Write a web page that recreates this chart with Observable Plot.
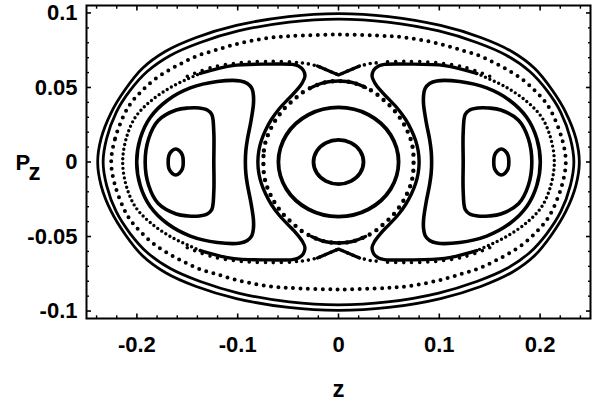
<!DOCTYPE html>
<html><head><meta charset="utf-8">
<script src="https://cdn.jsdelivr.net/npm/d3@7"></script>
<script src="https://cdn.jsdelivr.net/npm/@observablehq/plot@0.6"></script>
<style>html,body{margin:0;padding:0;background:#fff;}</style>
</head><body><div id="chart"></div>
<script>
// ---- tick values ----
const xMajorTicks = [-0.2, -0.1, 0, 0.1, 0.2];
const xMinorTicks = [-0.24,-0.22,-0.18,-0.16,-0.14,-0.12,-0.08,-0.06,-0.04,-0.02,0.02,0.04,0.06,0.08,0.12,0.14,0.16,0.18,0.22,0.24];
const yMajorTicks = [-0.1, -0.05, 0, 0.05, 0.1];
const yMinorTicks = [-0.09,-0.08,-0.07,-0.06,-0.04,-0.03,-0.02,-0.01,0.01,0.02,0.03,0.04,0.06,0.07,0.08,0.09];

// ---- orbits [z, Pz] ----
const outerOrbitA = [[-0.2389,0],[-0.2355,0.0158],[-0.2255,0.0332],[-0.2116,0.0486],[-0.1947,0.0627],[-0.1719,0.0741],[-0.1411,0.0835],[-0.1013,0.0916],[-0.0497,0.0976],[0,0.0996],
[0.0497,0.0976],[0.1013,0.0916],[0.1411,0.0835],[0.1719,0.0741],[0.1947,0.0627],[0.2116,0.0486],[0.2255,0.0332],[0.2355,0.0158],
[0.2389,0],[0.2355,-0.0158],[0.2255,-0.0332],[0.2116,-0.0486],[0.1947,-0.0627],[0.1719,-0.0741],[0.1411,-0.0835],[0.1013,-0.0916],[0.0497,-0.0976],[0,-0.0996],
[-0.0497,-0.0976],[-0.1013,-0.0916],[-0.1411,-0.0835],[-0.1719,-0.0741],[-0.1947,-0.0627],[-0.2116,-0.0486],[-0.2255,-0.0332],[-0.2355,-0.0158]];

const outerOrbitB = [[-0.2335,0],[-0.2300,0.0158],[-0.2206,0.0332],[-0.2067,0.0480],[-0.1898,0.0607],[-0.1669,0.0715],[-0.1371,0.0802],[-0.0994,0.0879],[-0.0487,0.0939],[0,0.0959],
[0.0487,0.0939],[0.0994,0.0879],[0.1371,0.0802],[0.1669,0.0715],[0.1898,0.0607],[0.2067,0.0480],[0.2206,0.0332],[0.2300,0.0158],
[0.2335,0],[0.2300,-0.0158],[0.2206,-0.0332],[0.2067,-0.0480],[0.1898,-0.0607],[0.1669,-0.0715],[0.1371,-0.0802],[0.0994,-0.0879],[0.0487,-0.0939],[0,-0.0959],
[-0.0487,-0.0939],[-0.0994,-0.0879],[-0.1371,-0.0802],[-0.1669,-0.0715],[-0.1898,-0.0607],[-0.2067,-0.0480],[-0.2206,-0.0332],[-0.2300,-0.0158]];

const dottedOrbit = [[-0.2255,0],[-0.2216,0.0158],[-0.2116,0.0332],[-0.2047,0.0406],[-0.1957,0.0473],[-0.1838,0.0547],[-0.1689,0.0614],[-0.1540,0.0668],[-0.1391,0.0715],[-0.1232,0.0748],[-0.1063,0.0782],[-0.0874,0.0812],[-0.0666,0.0835],[-0.0477,0.0845],[0,0.0855],
[0.0477,0.0845],[0.0666,0.0835],[0.0874,0.0812],[0.1063,0.0782],[0.1232,0.0748],[0.1391,0.0715],[0.1540,0.0668],[0.1689,0.0614],[0.1838,0.0547],[0.1957,0.0473],[0.2047,0.0406],[0.2116,0.0332],[0.2216,0.0158],
[0.2255,0],[0.2216,-0.0158],[0.2116,-0.0332],[0.2047,-0.0406],[0.1957,-0.0473],[0.1838,-0.0547],[0.1689,-0.0614],[0.1540,-0.0668],[0.1391,-0.0715],[0.1232,-0.0748],[0.1063,-0.0782],[0.0874,-0.0812],[0.0666,-0.0835],[0.0477,-0.0845],[0,-0.0855],
[-0.0477,-0.0845],[-0.0666,-0.0835],[-0.0874,-0.0812],[-0.1063,-0.0782],[-0.1232,-0.0748],[-0.1391,-0.0715],[-0.1540,-0.0668],[-0.1689,-0.0614],[-0.1838,-0.0547],[-0.1957,-0.0473],[-0.2047,-0.0406],[-0.2116,-0.0332],[-0.2216,-0.0158]];

// outer separatrix layer: scattered far ends, dense inner parts
const lobeLeftScatter = [[-0.1371,-0.0594],[-0.1649,-0.0507],[-0.1868,-0.0406],[-0.2017,-0.0299],[-0.2106,-0.0158],[-0.2141,0],[-0.2106,0.0158],[-0.2017,0.0299],[-0.1868,0.0406],[-0.1649,0.0507],[-0.1371,0.0594]];
const lobeLeftDense = [[-0.1371,0.0594],[-0.1053,0.0647],[-0.0676,0.0657],[-0.0457,0.0655],[-0.0397,0.0644],[-0.0348,0.0614],[-0.0333,0.0574],[-0.0358,0.0533],[-0.0417,0.0480],[-0.0497,0.0423],[-0.0586,0.0359],[-0.0666,0.0285],[-0.0725,0.0211],[-0.0765,0.0144],[-0.0790,0.0077],[-0.0800,0],[-0.0790,-0.0077],[-0.0765,-0.0144],[-0.0725,-0.0211],[-0.0666,-0.0285],[-0.0586,-0.0359],[-0.0497,-0.0423],[-0.0417,-0.0480],[-0.0358,-0.0533],[-0.0333,-0.0574],[-0.0348,-0.0614],[-0.0397,-0.0644],[-0.0457,-0.0655],[-0.0676,-0.0657],[-0.1053,-0.0647],[-0.1371,-0.0594]];
const lobeRightScatter = [[0.1371,0.0594],[0.1649,0.0507],[0.1868,0.0406],[0.2017,0.0299],[0.2106,0.0158],[0.2141,0],[0.2106,-0.0158],[0.2017,-0.0299],[0.1868,-0.0406],[0.1649,-0.0507],[0.1371,-0.0594]];
const lobeRightDense = [[0.1371,-0.0594],[0.1053,-0.0647],[0.0676,-0.0657],[0.0457,-0.0655],[0.0397,-0.0644],[0.0348,-0.0614],[0.0333,-0.0574],[0.0358,-0.0533],[0.0417,-0.0480],[0.0497,-0.0423],[0.0586,-0.0359],[0.0666,-0.0285],[0.0725,-0.0211],[0.0765,-0.0144],[0.0790,-0.0077],[0.0800,0],[0.0790,0.0077],[0.0765,0.0144],[0.0725,0.0211],[0.0666,0.0285],[0.0586,0.0359],[0.0497,0.0423],[0.0417,0.0480],[0.0358,0.0533],[0.0333,0.0574],[0.0348,0.0614],[0.0397,0.0644],[0.0457,0.0655],[0.0676,0.0657],[0.1053,0.0647],[0.1371,0.0594]];
// scattered points riding on the dense top/bottom of the lobes
const lobeTopScatter = [[-0.1500,0.0575],[-0.1250,0.0636],[-0.0950,0.0668],[-0.0650,0.0675],[-0.0460,0.0672]];
const lobeTopScatterRight = [[0.1500,0.0575],[0.1250,0.0636],[0.0950,0.0668],[0.0650,0.0675],[0.0460,0.0672]];
const lobeBottomScatter = [[-0.1500,-0.0575],[-0.1250,-0.0636],[-0.0950,-0.0668],[-0.0650,-0.0675],[-0.0460,-0.0672]];
const lobeBottomScatterRight = [[0.1500,-0.0575],[0.1250,-0.0636],[0.0950,-0.0668],[0.0650,-0.0675],[0.0460,-0.0672]];

const crossTopScatter = [[-0.0417,0.0668],[-0.0318,0.0661],[-0.0209,0.0644],[-0.0104,0.0614],[0,0.0584],[0.0104,0.0614],[0.0209,0.0644],[0.0318,0.0661],[0.0417,0.0668]];
const crossBottomScatter = [[-0.0417,-0.0668],[-0.0318,-0.0661],[-0.0209,-0.0644],[-0.0104,-0.0614],[0,-0.0584],[0.0104,-0.0614],[0.0209,-0.0644],[0.0318,-0.0661],[0.0417,-0.0668]];
const crossTopV = [[-0.0209,0.0644],[0,0.0584],[0.0209,0.0644]];
const crossBottomV = [[-0.0209,-0.0644],[0,-0.0584],[0.0209,-0.0644]];

// inner separatrix layer around the central island
const innerRing = [[-0.0745,0],[-0.0740,0.0077],[-0.0720,0.0144],[-0.0681,0.0211],[-0.0621,0.0285],[-0.0537,0.0359],[-0.0447,0.0416],[-0.0358,0.0466],[-0.0268,0.0500],[-0.0169,0.0527],[-0.0079,0.0540],[0,0.0543],
[0.0079,0.0540],[0.0169,0.0527],[0.0268,0.0500],[0.0358,0.0466],[0.0447,0.0416],[0.0537,0.0359],[0.0621,0.0285],[0.0681,0.0211],[0.0720,0.0144],[0.0740,0.0077],
[0.0745,0],[0.0740,-0.0077],[0.0720,-0.0144],[0.0681,-0.0211],[0.0621,-0.0285],[0.0537,-0.0359],[0.0447,-0.0416],[0.0358,-0.0466],[0.0268,-0.0500],[0.0169,-0.0527],[0.0079,-0.0540],[0,-0.0543],
[-0.0079,-0.0540],[-0.0169,-0.0527],[-0.0268,-0.0500],[-0.0358,-0.0466],[-0.0447,-0.0416],[-0.0537,-0.0359],[-0.0621,-0.0285],[-0.0681,-0.0211],[-0.0720,-0.0144],[-0.0740,-0.0077]];
const innerRingTopDense = [[-0.0268,0.0500],[-0.0169,0.0527],[-0.0079,0.0540],[0,0.0543],[0.0079,0.0540],[0.0169,0.0527],[0.0268,0.0500]];
const innerRingBottomDense = [[-0.0268,-0.0500],[-0.0169,-0.0527],[-0.0079,-0.0540],[0,-0.0543],[0.0079,-0.0540],[0.0169,-0.0527],[0.0268,-0.0500]];

// central island
const centerSmall = [[-0.0248,0],[-0.0215,0.0074],[-0.0124,0.0128],[0,0.0148],[0.0124,0.0128],[0.0215,0.0074],[0.0248,0],[0.0215,-0.0074],[0.0124,-0.0128],[0,-0.0148],[-0.0124,-0.0128],[-0.0215,-0.0074]];
const centerMedium = [[-0.0596,0],[-0.0517,0.0182],[-0.0298,0.0317],[0,0.0366],[0.0298,0.0317],[0.0517,0.0182],[0.0596,0],[0.0517,-0.0182],[0.0298,-0.0317],[0,-0.0366],[-0.0298,-0.0317],[-0.0517,-0.0182]];

// side islands
const beanLeft = [[-0.2002,0],[-0.1967,0.0158],[-0.1868,0.0299],[-0.1699,0.0413],[-0.1470,0.0497],[-0.1202,0.0540],[-0.0974,0.0544],[-0.0904,0.0527],[-0.0859,0.0493],[-0.0844,0.0446],[-0.0844,0.0386],[-0.0869,0.0272],[-0.0904,0.0151],[-0.0919,0.0077],[-0.0924,0],[-0.0919,-0.0077],[-0.0904,-0.0151],[-0.0869,-0.0272],[-0.0844,-0.0386],[-0.0844,-0.0446],[-0.0859,-0.0493],[-0.0904,-0.0527],[-0.0974,-0.0544],[-0.1202,-0.0540],[-0.1470,-0.0497],[-0.1699,-0.0413],[-0.1868,-0.0299],[-0.1967,-0.0158]];
const beanRight = [[0.2002,0],[0.1967,0.0158],[0.1868,0.0299],[0.1699,0.0413],[0.1470,0.0497],[0.1202,0.0540],[0.0974,0.0544],[0.0904,0.0527],[0.0859,0.0493],[0.0844,0.0446],[0.0844,0.0386],[0.0869,0.0272],[0.0904,0.0151],[0.0919,0.0077],[0.0924,0],[0.0919,-0.0077],[0.0904,-0.0151],[0.0869,-0.0272],[0.0844,-0.0386],[0.0844,-0.0446],[0.0859,-0.0493],[0.0904,-0.0527],[0.0974,-0.0544],[0.1202,-0.0540],[0.1470,-0.0497],[0.1699,-0.0413],[0.1868,-0.0299],[0.1967,-0.0158]];
const islandLeft = [[-0.1918,0],[-0.1883,0.0158],[-0.1788,0.0279],[-0.1610,0.0349],[-0.1490,0.0362],[-0.1381,0.0362],[-0.1302,0.0349],[-0.1257,0.0319],[-0.1237,0.0198],[-0.1237,0],[-0.1237,-0.0198],[-0.1257,-0.0319],[-0.1302,-0.0349],[-0.1381,-0.0362],[-0.1490,-0.0362],[-0.1610,-0.0349],[-0.1788,-0.0279],[-0.1883,-0.0158]];
const islandRight = [[0.1918,0],[0.1883,0.0158],[0.1788,0.0279],[0.1610,0.0349],[0.1490,0.0362],[0.1381,0.0362],[0.1302,0.0349],[0.1257,0.0319],[0.1237,0.0198],[0.1237,0],[0.1237,-0.0198],[0.1257,-0.0319],[0.1302,-0.0349],[0.1381,-0.0362],[0.1490,-0.0362],[0.1610,-0.0349],[0.1788,-0.0279],[0.1883,-0.0158]];
const coreLeft = [[-0.1690,0],[-0.1682,0.0045],[-0.1650,0.0076],[-0.1615,0.0087],[-0.1580,0.0076],[-0.1548,0.0045],[-0.1540,0],[-0.1548,-0.0045],[-0.1580,-0.0076],[-0.1615,-0.0087],[-0.1650,-0.0076],[-0.1682,-0.0045]];
const coreRight = [[0.1540,0],[0.1548,0.0045],[0.1580,0.0076],[0.1615,0.0087],[0.1650,0.0076],[0.1682,0.0045],[0.1690,0],[0.1682,-0.0045],[0.1650,-0.0076],[0.1615,-0.0087],[0.1580,-0.0076],[0.1548,-0.0045]];

// ---- marks ----
const X = d => d[0], Y = d => d[1];
const solid = (pts, w, curve) => Plot.line(pts, {x: X, y: Y, stroke: "black", strokeWidth: w, curve, strokeLinejoin: "round", strokeLinecap: "round"});
const dotted = (pts, w, gap, curve) => Plot.line(pts, {x: X, y: Y, stroke: "black", strokeWidth: w, curve, strokeDasharray: `0 ${gap}`, strokeLinecap: "round"});
const fmt = d => String(d);
const font = "Liberation Sans, Arial, Helvetica, sans-serif";

const chart = Plot.plot({
  width: 597, height: 403,
  marginLeft: 86, marginRight: 7, marginTop: 5, marginBottom: 85,
  x: {domain: [-0.25, 0.25]},
  y: {domain: [-0.105, 0.105]},
  style: {fontFamily: font, fontSize: "22px", fontWeight: "bold", color: "black", background: "white", overflow: "visible"},
  marks: [
    solid(outerOrbitA, 2.8, "catmull-rom-closed"),
    solid(outerOrbitB, 2.8, "catmull-rom-closed"),
    dotted(dottedOrbit, 4, 7.4, "catmull-rom-closed"),
    dotted(lobeLeftScatter, 3.4, 4.8, "catmull-rom"),
    dotted(lobeRightScatter, 3.4, 4.8, "catmull-rom"),
    solid(lobeLeftDense, 3.4, "catmull-rom"),
    solid(lobeRightDense, 3.4, "catmull-rom"),
    dotted(lobeTopScatter, 3.6, 8, "catmull-rom"),
    dotted(lobeTopScatterRight, 3.6, 8, "catmull-rom"),
    dotted(lobeBottomScatter, 3.6, 8, "catmull-rom"),
    dotted(lobeBottomScatterRight, 3.6, 8, "catmull-rom"),
    dotted(crossTopScatter, 3.6, 6, "linear"),
    dotted(crossBottomScatter, 3.6, 6, "linear"),
    solid(crossTopV, 3.2, "linear"),
    solid(crossBottomV, 3.2, "linear"),
    dotted(innerRing, 4.4, 8, "catmull-rom-closed"),
    solid(innerRingTopDense, 3.4, "catmull-rom"),
    solid(innerRingBottomDense, 3.4, "catmull-rom"),
    solid(centerSmall, 3.8, "catmull-rom-closed"),
    solid(centerMedium, 3.8, "catmull-rom-closed"),
    solid(beanLeft, 3.6, "catmull-rom-closed"),
    solid(beanRight, 3.6, "catmull-rom-closed"),
    solid(islandLeft, 3.6, "catmull-rom-closed"),
    solid(islandRight, 3.6, "catmull-rom-closed"),
    solid(coreLeft, 3.6, "catmull-rom-closed"),
    solid(coreRight, 3.6, "catmull-rom-closed"),
    Plot.frame({stroke: "black", strokeWidth: 2}),
    // bottom axis
    Plot.axisX(xMajorTicks, {anchor: "bottom", tickSize: -4.5, tickPadding: 22.5, tickFormat: fmt, label: null, strokeWidth: 1.6, fontSize: 22, fontWeight: "bold"}),
    Plot.axisX(xMinorTicks, {anchor: "bottom", tickSize: -2.7, fill: "none", label: null, strokeWidth: 1.4}),
    Plot.axisX(xMajorTicks, {anchor: "top", tickSize: -4.5, fill: "none", label: null, strokeWidth: 1.6}),
    Plot.axisX(xMinorTicks, {anchor: "top", tickSize: -2.7, fill: "none", label: null, strokeWidth: 1.4}),
    // left axis
    Plot.axisY(yMajorTicks, {anchor: "left", tickSize: -5, tickPadding: 14, tickFormat: fmt, label: null, strokeWidth: 1.6, fontSize: 22, fontWeight: "bold"}),
    Plot.axisY(yMinorTicks, {anchor: "left", tickSize: -3, fill: "none", label: null, strokeWidth: 1.4}),
    Plot.axisY(yMajorTicks, {anchor: "right", tickSize: -5, fill: "none", label: null, strokeWidth: 1.6}),
    Plot.axisY(yMinorTicks, {anchor: "right", tickSize: -3, fill: "none", label: null, strokeWidth: 1.4}),
    // axis titles
    Plot.text(["z"], {frameAnchor: "bottom", dy: 71, lineAnchor: "middle", fontSize: 24, fontWeight: "bold"}),
    Plot.text(["P"], {frameAnchor: "left", dx: -71, dy: 1, textAnchor: "start", lineAnchor: "middle", fontSize: 22, fontWeight: "bold"}),
    Plot.text(["z"], {frameAnchor: "left", dx: -58, dy: 10, textAnchor: "start", lineAnchor: "middle", fontSize: 24, fontWeight: "bold"})
  ]
});
document.getElementById("chart").appendChild(chart);
</script></body></html>
